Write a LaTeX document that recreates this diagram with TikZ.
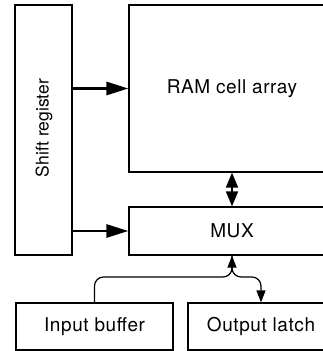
\documentclass[tikz,border=0pt]{standalone}
\usepackage{fontspec}
\setmainfont{TeX Gyre Heros}
\newfontfamily\lblfont[LetterSpace=3]{TeX Gyre Heros}
\usetikzlibrary{arrows.meta,calc}

\tikzset{
  blk/.style={draw,line width=1.2pt,inner sep=0pt,font=\fontsize{19}{22}\selectfont\lblfont},
  bigarrow/.style={line width=2.8pt,-{Triangle[length=22pt,width=13pt]}},
  dblarrow/.style={line width=1.8pt,{Triangle[length=15pt,width=12pt]}-{Triangle[length=15pt,width=12pt]}},
  thinarrow/.style={line width=1.2pt,-{Triangle[length=12pt,width=9pt]}}
}

\begin{document}
\begin{tikzpicture}[x=1pt,y=-1pt]
\useasboundingbox (0,0) rectangle (323,351);
\clip (0,0) rectangle (323,351);
% blocks
\node[blk,minimum width=57pt,minimum height=250pt] (shift) at (43.5,130) {};
\node[rotate=90,font=\fontsize{17.5}{20}\selectfont] (shiftlbl) at (44,128) {Shift register};
\node[blk,minimum width=206pt,minimum height=167pt] (ram) at (232,88.5) {RAM cell array};
\node[blk,minimum width=206pt,minimum height=48pt] (mux) at (232,231) {MUX};
\node[blk,minimum width=157pt,minimum height=47pt] (inbuf) at (94.5,326.5) {Input buffer};
\node[blk,minimum width=146pt,minimum height=47pt] (outlatch) at (261,326.5) {Output latch};
% connectors
\draw[bigarrow] (shift.east |- ram.west) -- (ram.west);
\draw[bigarrow] (shift.east |- mux.west) -- (mux.west);
\draw[dblarrow] (ram.south) -- (mux.north);
\coordinate (jlevel) at (0,277);
\coordinate (jn) at (mux.south |- jlevel);
\draw[thinarrow,rounded corners=9pt] (inbuf.north) |- (jn) -- (mux.south);
\draw[thinarrow,rounded corners=9pt] (mux.south) |- (outlatch.north |- jlevel) -- (outlatch.north);
\end{tikzpicture}
\end{document}
